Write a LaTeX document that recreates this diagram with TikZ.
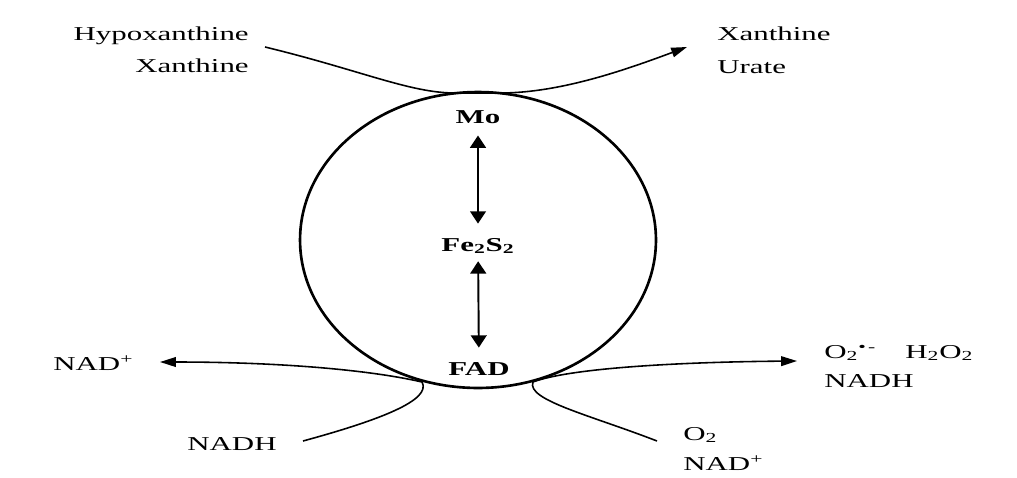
\documentclass[tikz,border=0pt]{standalone}
\usepackage{fontspec}
\setmainfont{Liberation Serif}[FakeStretch=1.57]
\usetikzlibrary{arrows.meta,shapes.geometric}

\begin{document}
\begin{tikzpicture}[
  x=0.02cm, y=-0.02cm,
  font=\fontsize{11.2}{13}\selectfont,
  flow/.style={line width=0.9pt},
  flowarr/.style={flow, -{Triangle[length=9pt,width=5.5pt]}},
  dbl/.style={line width=1.1pt,
              {Triangle[length=7pt,width=9pt]}-{Triangle[length=7pt,width=9pt]}},
  lbl/.style={inner sep=0pt},
  cofac/.style={inner sep=0pt, font=\fontsize{11.2}{13}\selectfont\bfseries},
]
\useasboundingbox (0,0) rectangle (1017,477);

% enzyme
\node[draw, ellipse, line width=1.5pt, minimum width=7.12cm,
      minimum height=5.92cm, inner sep=0pt] (enz) at (478,240) {};

% redox centres
\node[cofac, anchor=base] (mo) at (478,123) {Mo};
\node[cofac, anchor=base] (fes) at (478,251) {Fe\textsubscript{2}S\textsubscript{2}};
\node[cofac, anchor=base] (fad) at (479,375) {FAD};
\draw[dbl, shorten <=6.8pt, shorten >=8pt] (mo) -- (fes);
\draw[dbl, shorten <=4pt, shorten >=8pt] (fes) -- (fad);

% substrates and products
\node[lbl, anchor=base east] (hypo) at (249,40) {Hypoxanthine};
\node[lbl, anchor=base east] (xan) at (249,72) {Xanthine};
\node[lbl, anchor=base west] (xanp) at (717,40) {Xanthine};
\node[lbl, anchor=base west] (urate) at (717,73) {Urate};
\node[lbl, anchor=base west] (nadp) at (53,370) {NAD\textsuperscript{+}};
\node[lbl, anchor=base west] (nadh) at (187,450) {NADH};
\node[lbl, anchor=base west] (sox) at (824,358) {O\textsubscript{2}\textsuperscript{•\,-}};
\node[lbl, anchor=base west] (hpo) at (905,358) {H\textsubscript{2}O\textsubscript{2}};
\node[lbl, anchor=base west] (nadhp) at (824,387) {NADH};
\node[lbl, anchor=base west] (oxy) at (683,440) {O\textsubscript{2}};
\node[lbl, anchor=base west] (nadpp) at (683,470) {NAD\textsuperscript{+}};

% curve ends
\coordinate (hxin) at (265,47);
\coordinate (hxout) at (687,47);
\coordinate (cl) at (422,382);
\coordinate (cr) at (533,382);
\coordinate (nadhin) at (303,441);
\coordinate (nadout) at (160,362);
\coordinate (oxin) at (657,441);
\coordinate (rosout) at (797,361);

% reactions
\draw[flowarr] (hxin) .. controls (360,70) and (410,93) .. (455,93) -- (500,93)
  .. controls (560,93) and (625,70) .. (hxout);
\draw[flowarr] (nadhin) .. controls (380,420) and (432,400) .. (cl)
  .. controls (370,370) and (280,362) .. (nadout);
\draw[flowarr] (oxin) .. controls (590,415) and (526,400) .. (cr)
  .. controls (570,368) and (680,362) .. (rosout);
\end{tikzpicture}
\end{document}
